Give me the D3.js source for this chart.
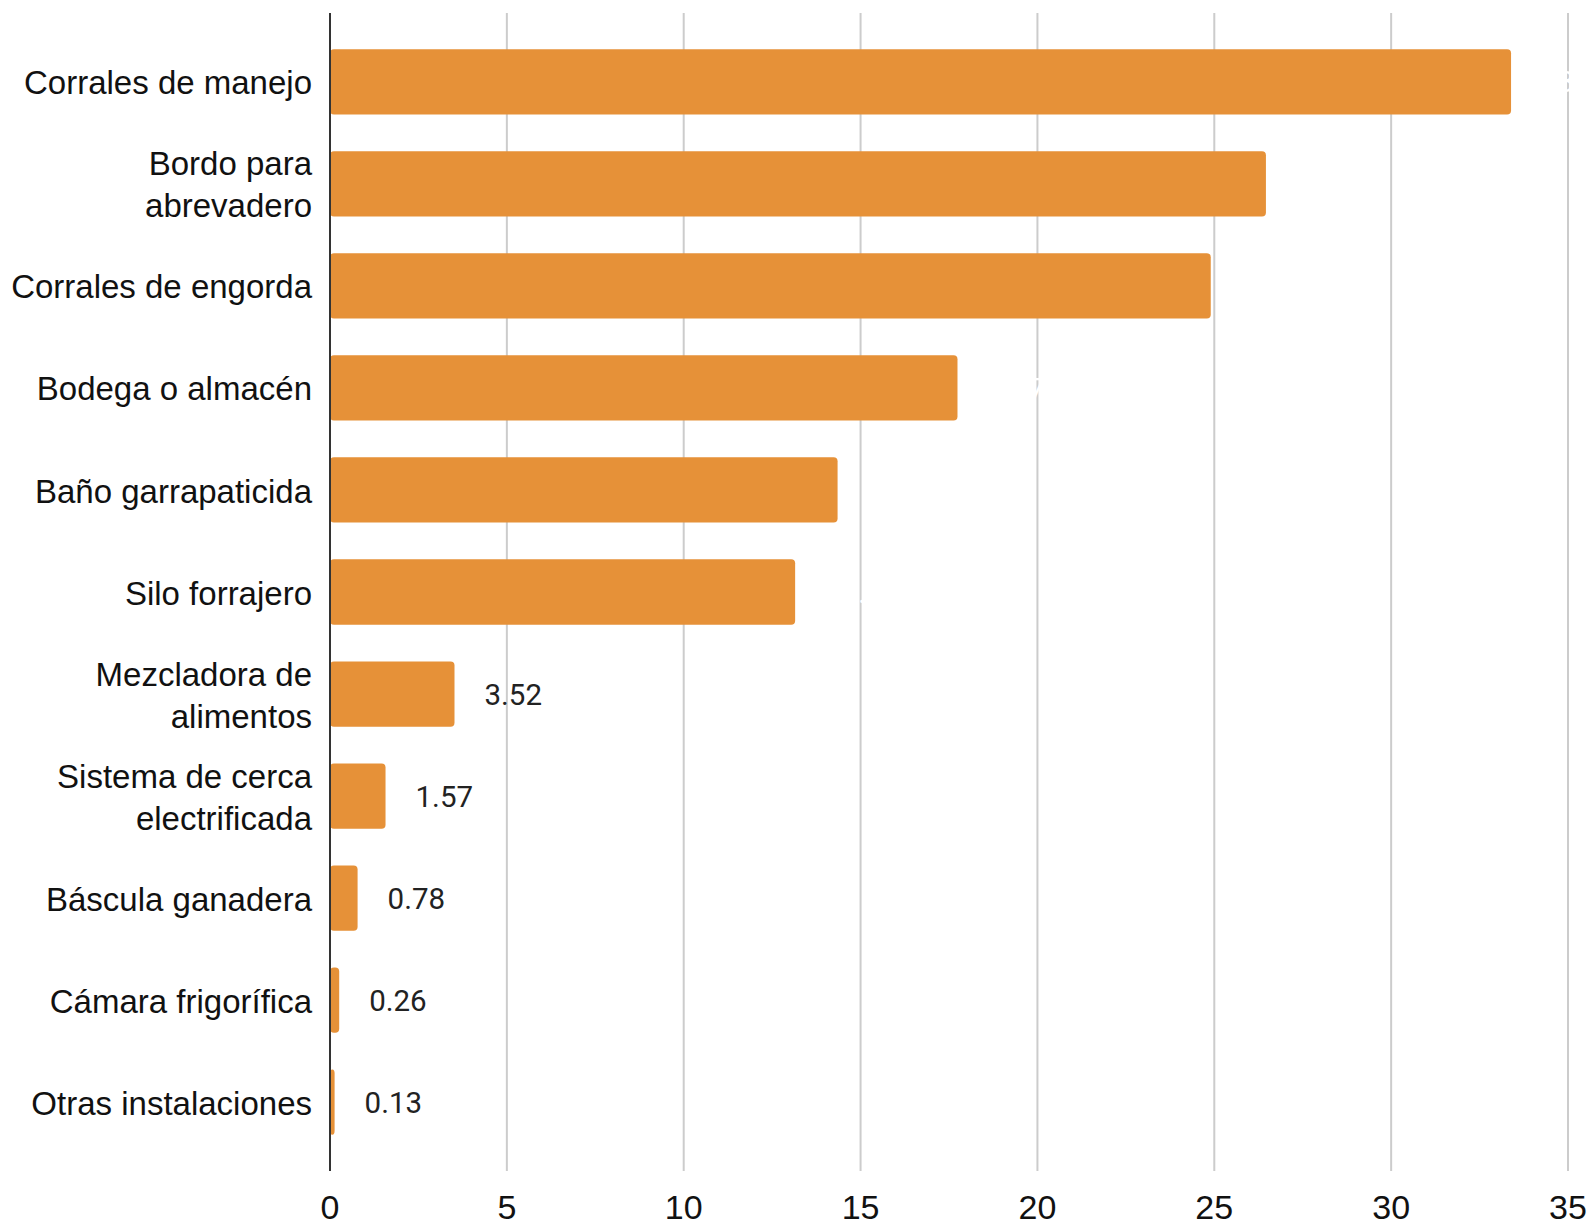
<!DOCTYPE html>
<html><head><meta charset="utf-8">
<script src="https://cdn.jsdelivr.net/npm/d3@7"></script>
<style>html,body{margin:0;padding:0;background:#fff;}</style>
</head><body>
<svg id="chart" width="1589" height="1223"></svg>
<script>
const categories = [
  ["Corrales de manejo"],
  ["Bordo para", "abrevadero"],
  ["Corrales de engorda"],
  ["Bodega o almacén"],
  ["Baño garrapaticida"],
  ["Silo forrajero"],
  ["Mezcladora de", "alimentos"],
  ["Sistema de cerca", "electrificada"],
  ["Báscula ganadera"],
  ["Cámara frigorífica"],
  ["Otras instalaciones"]
];
const values = [33.39, 26.46, 24.90, 17.74, 14.35, 13.15, 3.52, 1.57, 0.78, 0.26, 0.13];
const valueLabels = ["33.39", "26.46", "24.90", "17.74", "14.35", "13.15", "3.52", "1.57", "0.78", "0.26", "0.13"];
const labelIsWhite = [true, true, true, true, true, true, false, false, false, false, false];
const xTicks = [0, 5, 10, 15, 20, 25, 30, 35];

(function () {
const svg = d3.select("#chart");
const mLeft = 330, mRight = 1568, mTop = 13, mBottom = 1171;
const keys = categories.map((c, i) => i);

const x = d3.scaleLinear().domain([0, 35]).range([mLeft, mRight]);
const y = d3.scaleBand().domain(keys).range([mTop, mBottom]).paddingInner(0.36).paddingOuter(0.355);

// gridlines
svg.append("g").selectAll("line").data(xTicks.filter(t => t > 0)).join("line")
  .attr("x1", d => x(d)).attr("x2", d => x(d))
  .attr("y1", mTop).attr("y2", mBottom)
  .attr("stroke", "#cccccc").attr("stroke-width", 2);

// bars
svg.append("g").selectAll("rect").data(values).join("rect")
  .attr("x", x(0))
  .attr("y", (d, i) => y(i))
  .attr("width", d => x(d) - x(0))
  .attr("height", y.bandwidth())
  .attr("rx", 4).attr("ry", 4)
  .attr("fill", "#e69138");

// value labels
svg.append("g").selectAll("text").data(values).join("text")
  .attr("x", d => x(d) + 30)
  .attr("y", (d, i) => y(i) + y.bandwidth() / 2)
  .attr("dy", "0.36em")
  .attr("font-family", "Roboto, sans-serif")
  .attr("font-size", 29.5)
  .attr("fill", (d, i) => labelIsWhite[i] ? "#ffffff" : "#222222")
  .text((d, i) => valueLabels[i]);

// y axis line
svg.append("line")
  .attr("x1", x(0)).attr("x2", x(0))
  .attr("y1", mTop).attr("y2", mBottom)
  .attr("stroke", "#333333").attr("stroke-width", 2);

// category labels
const catG = svg.append("g");
categories.forEach((lines, i) => {
  const cy = y(i) + y.bandwidth() / 2;
  const lh = 42;
  const t = catG.append("text")
    .attr("text-anchor", "end")
    .attr("font-family", "'Liberation Sans', Arial, sans-serif")
    .attr("font-size", 33)
    .attr("fill", "#111111");
  lines.forEach((ln, j) => {
    t.append("tspan")
      .attr("x", x(0) - 18)
      .attr("y", cy + (j - (lines.length - 1) / 2) * lh)
      .attr("dy", "0.38em")
      .text(ln);
  });
});

// x tick labels
svg.append("g").selectAll("text").data(xTicks).join("text")
  .attr("x", d => x(d))
  .attr("y", 1219)
  .attr("text-anchor", "middle")
  .attr("font-family", "'Liberation Sans', Arial, sans-serif")
  .attr("font-size", 34)
  .attr("fill", "#111111")
  .text(d => d);
})();
</script>
</body></html>
